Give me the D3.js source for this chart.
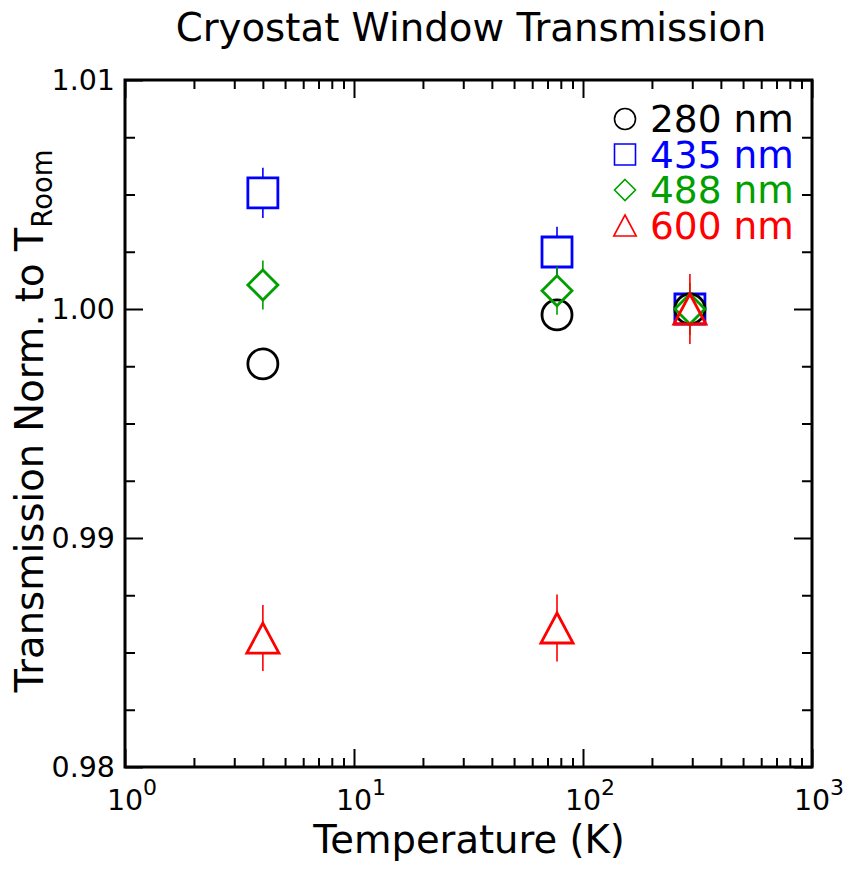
<!DOCTYPE html>
<html>
<head>
<meta charset="utf-8">
<script src="https://cdn.jsdelivr.net/npm/d3@7"></script>
<style>
  body { margin: 0; background: #fff; }
  svg text { font-family: "DejaVu Sans", sans-serif; }
</style>
</head>
<body>
<div id="chart"></div>
<script>
(function (d3) {
    'use strict';

    // Temperatures (K) of the three measurements.
    var temperatures = [4, 77, 293];

    // Wavelength series, normalised transmission and its error.
    var wavelengths = ['280 nm', '435 nm', '488 nm', '600 nm'];
    var trans280 = [0.99760, 0.99974, 1.00000];
    var trans435 = [1.00507, 1.00249, 1.00000];
    var trans488 = [1.00105, 1.00080, 1.00000];
    var trans600 = [0.98563, 0.98607, 1.00000];
    var err280 = [0, 0, 0];
    var err435 = [0.0011, 0.0011, 0];
    var err488 = [0.00107, 0.00105, 0.00114];
    var err600 = [0.00144, 0.00146, 0.00153];

    // Tick values.
    var xMajorTicks = [1, 10, 100, 1000];
    var xTickExponents = ['0', '1', '2', '3'];
    var yMajorTicks = [0.98, 0.99, 1.00, 1.01];
    var yTickLabels = ['0.98', '0.99', '1.00', '1.01'];
    var yMinorTicks = [0.9825, 0.985, 0.9875, 0.9925, 0.995, 0.9975, 1.0025, 1.005, 1.0075];

    var width = 852, height = 869;
    var margin = {top: 80, right: 40, bottom: 102, left: 125};
    var innerW = width - margin.left - margin.right;
    var innerH = height - margin.top - margin.bottom;

    var x = d3.scaleLog().domain([1, 1000]).range([0, innerW]);
    var y = d3.scaleLinear().domain([0.98, 1.01]).range([innerH, 0]);
    var xMinorTicks = x.ticks().filter(function (t) { return xMajorTicks.indexOf(t) < 0; });

    // Open marker shapes, sized by half-extent r.
    var shapes = {
        circle: {draw: function (c, r) { c.moveTo(r, 0); c.arc(0, 0, r, 0, 2 * Math.PI); }},
        square: {draw: function (c, r) { c.rect(-r, -r, 2 * r, 2 * r); }},
        diamond: {draw: function (c, r) {
            c.moveTo(0, -r); c.lineTo(r, 0); c.lineTo(0, r); c.lineTo(-r, 0); c.closePath();
        }},
        triangle: {draw: function (c, r) {
            c.moveTo(0, -r); c.lineTo(r * 1.07, r); c.lineTo(-r * 1.07, r); c.closePath();
        }}
    };

    var series = [
        {name: wavelengths[1], values: trans435, errors: err435, color: '#0000ff', shape: shapes.square},
        {name: wavelengths[0], values: trans280, errors: err280, color: '#000000', shape: shapes.circle},
        {name: wavelengths[2], values: trans488, errors: err488, color: '#00a000', shape: shapes.diamond},
        {name: wavelengths[3], values: trans600, errors: err600, color: '#ff0000', shape: shapes.triangle}
    ];
    var legendOrder = [1, 0, 2, 3];

    var svg = d3.select('#chart').append('svg')
        .attr('width', width)
        .attr('height', height)
    ;

    svg.append('text')
        .attr('x', 471).attr('y', 41)
        .attr('text-anchor', 'middle')
        .attr('font-size', 38.7)
        .text('Cryostat Window Transmission')
    ;

    var g = svg.append('g').attr('transform', translate(margin.left, margin.top));

    // Ticks on all four sides, pointing inward.
    function ticks(axis, values, size, t) {
        var a = g.append('g')
            .attr('transform', t)
            .call(axis.tickValues(values).tickSize(-size).tickFormat(''))
        ;
        a.select('.domain').remove();
        a.selectAll('line').attr('stroke', '#000').attr('stroke-width', 2);
    }
    ticks(d3.axisBottom(x), xMinorTicks, 9, translate(0, innerH));
    ticks(d3.axisBottom(x), xMajorTicks, 18, translate(0, innerH));
    ticks(d3.axisTop(x), xMinorTicks, 9, translate(0, 0));
    ticks(d3.axisTop(x), xMajorTicks, 18, translate(0, 0));
    ticks(d3.axisLeft(y), yMinorTicks, 10, translate(0, 0));
    ticks(d3.axisLeft(y), yMajorTicks, 18, translate(0, 0));
    ticks(d3.axisRight(y), yMinorTicks, 10, translate(innerW, 0));
    ticks(d3.axisRight(y), yMajorTicks, 18, translate(innerW, 0));

    g.append('rect')
        .attr('width', innerW).attr('height', innerH)
        .attr('fill', 'none').attr('stroke', '#000').attr('stroke-width', 3)
    ;

    // Tick labels.
    g.selectAll('.ylab').data(yMajorTicks).enter().append('text')
        .attr('class', 'ylab')
        .attr('x', -10).attr('y', function (d) { return y(d); })
        .attr('dy', '0.36em')
        .attr('text-anchor', 'end')
        .attr('font-size', 28.5)
        .text(function (d, i) { return yTickLabels[i]; })
    ;

    var xl = g.selectAll('.xlab').data(xMajorTicks).enter().append('g')
        .attr('class', 'xlab')
        .attr('transform', function (d) { return translate(x(d), innerH + 43); })
    ;
    xl.append('text').attr('text-anchor', 'middle').attr('font-size', 28.5).text('10');
    xl.append('text').attr('x', 18).attr('y', -15).attr('font-size', 22)
        .text(function (d, i) { return xTickExponents[i]; });

    // Axis titles.
    svg.append('text')
        .attr('x', 469).attr('y', 853)
        .attr('text-anchor', 'middle')
        .attr('font-size', 38.5)
        .text('Temperature (K)')
    ;

    var yTitle = svg.append('text')
        .attr('transform', 'translate(43,421) rotate(-90)')
        .attr('text-anchor', 'middle')
        .attr('font-size', 38.5)
    ;
    yTitle.append('tspan').text('Transmission Norm. to T');
    yTitle.append('tspan').attr('font-size', 27.5).attr('dy', 9).text('Room');

    // Data: error bars (outside marker) and open markers.
    var half = 15;
    var layers = g.selectAll('.series').data(series).enter().append('g').attr('class', 'series');

    layers.each(function (s) {
        var layer = d3.select(this);
        var pts = temperatures.map(function (t, i) {
            return {t: t, v: s.values[i], e: s.errors[i]};
        });

        layer.selectAll('.err').data(pts.filter(function (p) { return y(p.v - p.e) - y(p.v) > half; }))
            .enter().append('path')
            .attr('class', 'err')
            .attr('d', function (p) {
                var cx = x(p.t), cy = y(p.v);
                return 'M' + cx + ',' + y(p.v + p.e) + 'V' + (cy - half) +
                    'M' + cx + ',' + (cy + half) + 'V' + y(p.v - p.e);
            })
            .attr('stroke', s.color).attr('stroke-width', 1.6).attr('fill', 'none')
        ;

        layer.selectAll('.mark').data(pts).enter().append('path')
            .attr('class', 'mark')
            .attr('d', d3.symbol().type(s.shape).size(half))
            .attr('transform', function (p) { return translate(x(p.t), y(p.v)); })
            .attr('fill', 'none').attr('stroke', s.color).attr('stroke-width', 2.8)
        ;
    });

    // Legend.
    var legend = svg.append('g').attr('transform', translate(625, 132));
    legendOrder.forEach(function (k, row) {
        var s = series[k];
        var item = legend.append('g').attr('transform', translate(0, row * 35.5));
        item.append('path')
            .attr('d', d3.symbol().type(s.shape).size(10.5))
            .attr('transform', translate(0, -13))
            .attr('fill', 'none').attr('stroke', s.color).attr('stroke-width', 1.6)
        ;
        item.append('text')
            .attr('x', 25)
            .attr('font-size', 37.5)
            .attr('fill', s.color)
            .text(s.name)
        ;
    });

    function translate(a, b) {
        return 'translate(' + a + ',' + b + ')';
    }

})(d3);
</script>
</body>
</html>
